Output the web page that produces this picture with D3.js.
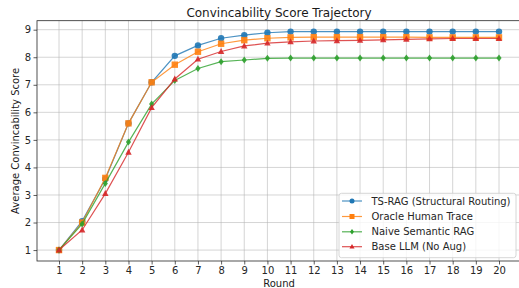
<!DOCTYPE html>
<html><head><meta charset="utf-8">
<script src="https://cdn.jsdelivr.net/npm/d3@7"></script>
<style>body{margin:0;background:#fff;} svg{display:block;font-family:"DejaVu Sans",sans-serif;}</style>
</head><body><svg id="c" width="519" height="288"></svg>
<script>
const rounds = d3.range(1, 21);
const seriesNames = ["TS-RAG (Structural Routing)", "Oracle Human Trace", "Naive Semantic RAG", "Base LLM (No Aug)"];
const tsRag = [1.0, 2.05, 3.58, 5.60, 7.09, 8.05, 8.43, 8.69, 8.80, 8.89, 8.93, 8.93, 8.93, 8.93, 8.93, 8.93, 8.93, 8.93, 8.93, 8.93];
const oracle = [1.0, 2.00, 3.62, 5.60, 7.09, 7.73, 8.20, 8.49, 8.62, 8.69, 8.72, 8.73, 8.73, 8.73, 8.73, 8.73, 8.72, 8.72, 8.72, 8.72];
const naive = [1.0, 1.95, 3.42, 4.92, 6.30, 7.16, 7.59, 7.84, 7.90, 7.96, 7.97, 7.97, 7.97, 7.97, 7.97, 7.97, 7.97, 7.97, 7.97, 7.97];
const baseLlm = [1.0, 1.73, 3.05, 4.55, 6.17, 7.21, 7.93, 8.21, 8.41, 8.51, 8.56, 8.59, 8.60, 8.61, 8.63, 8.65, 8.67, 8.68, 8.68, 8.68];
const yTicks = [1, 2, 3, 4, 5, 6, 7, 8, 9];
const colors = ["#1f77b4", "#ff7f0e", "#2ca02c", "#d62728"];
const markers = ["circle", "square", "diamond", "triangle"];
const allSeries = [tsRag, oracle, naive, baseLlm];

const svg = d3.select("#c");
const L = 37, R = 521, T = 20.7, B = 261;
const x = d3.scaleLinear().domain([0.05, 20.95]).range([L, R]);
const y = d3.scaleLinear().domain([0.6035, 9.3265]).range([B, T]);

// grid
const g = svg.append("g");
g.selectAll(".vx").data(rounds).join("line")
  .attr("x1", d => x(d)).attr("x2", d => x(d)).attr("y1", T).attr("y2", B)
  .attr("stroke", "#b0b0b0").attr("stroke-opacity", 0.6).attr("stroke-width", 0.9);
g.selectAll(".hy").data(yTicks).join("line")
  .attr("x1", L).attr("x2", R).attr("y1", d => y(d)).attr("y2", d => y(d))
  .attr("stroke", "#b0b0b0").attr("stroke-opacity", 0.6).attr("stroke-width", 0.9);

// axes
const xa = svg.append("g").attr("transform", `translate(0,${B})`)
  .call(d3.axisBottom(x).tickValues(rounds).tickSize(3.5).tickPadding(2.5).tickFormat(d3.format("d")));
const ya = svg.append("g").attr("transform", `translate(${L},0)`)
  .call(d3.axisLeft(y).tickValues(yTicks).tickSize(3.5).tickPadding(2.5).tickFormat(d3.format("d")));
[xa, ya].forEach(a => {
  a.select(".domain").remove();
  a.selectAll("line").attr("stroke", "#333").attr("stroke-width", 0.8);
  a.selectAll("text").attr("fill", "#262626").style("font-size", "10px").style("font-family", "DejaVu Sans");
});
// spines
svg.append("rect").attr("x", L).attr("y", T).attr("width", R - L).attr("height", B - T)
  .attr("fill", "none").attr("stroke", "#262626").attr("stroke-width", 0.8);

function markerPath(type, s) {
  if (type === "circle") return d3.symbol(d3.symbolCircle, s * s * Math.PI / 4)();
  if (type === "square") return `M${-s/2},${-s/2}H${s/2}V${s/2}H${-s/2}Z`;
  if (type === "diamond") return `M0,${-s*0.55}L${s*0.4},0L0,${s*0.55}L${-s*0.4},0Z`;
  return `M0,${-s*0.55}L${s*0.5},${s*0.38}L${-s*0.5},${s*0.38}Z`;
}

const line = d3.line().x((d, i) => x(rounds[i])).y(d => y(d));
allSeries.forEach((vals, k) => {
  const sg = svg.append("g");
  sg.append("path").attr("d", line(vals)).attr("fill", "none")
    .attr("stroke", colors[k]).attr("stroke-width", 1.2).attr("stroke-opacity", 0.8);
  sg.selectAll("path.m").data(vals).join("path").attr("class", "m")
    .attr("transform", (d, i) => `translate(${x(rounds[i])},${y(d)})`)
    .attr("d", markerPath(markers[k], 6.4)).attr("fill", colors[k]).attr("fill-opacity", 0.9);
});

// title & labels
svg.append("text").attr("x", (L + R) / 2).attr("y", 16.5).attr("text-anchor", "middle")
  .style("font-size", "12px").attr("fill", "#1a1a1a").text("Convincability Score Trajectory");
svg.append("text").attr("x", (L + R) / 2).attr("y", 288 - 1.5).attr("text-anchor", "middle")
  .style("font-size", "10px").attr("fill", "#1a1a1a").text("Round");
svg.append("text").attr("transform", `translate(${15.5},${(T + B) / 2}) rotate(-90)`).attr("text-anchor", "middle")
  .attr("dy", "0.35em").style("font-size", "10px").attr("fill", "#1a1a1a").text("Average Convincability Score");

// legend
const lg = svg.append("g");
lg.append("rect").attr("x", 339).attr("y", 193.3).attr("width", 177).attr("height", 64.4).attr("rx", 2.5)
  .attr("fill", "#fff").attr("fill-opacity", 0.8).attr("stroke", "#ccc").attr("stroke-width", 0.8);
const ly = [201, 216.5, 231.8, 246.7];
seriesNames.forEach((name, k) => {
  lg.append("line").attr("x1", 342).attr("x2", 362).attr("y1", ly[k]).attr("y2", ly[k])
    .attr("stroke", colors[k]).attr("stroke-width", 1.2).attr("stroke-opacity", 0.8);
  lg.append("path").attr("transform", `translate(352,${ly[k]})`).attr("d", markerPath(markers[k], 5))
    .attr("fill", colors[k]);
  lg.append("text").attr("x", 371.5).attr("y", ly[k]).attr("dy", "0.35em")
    .style("font-size", "10px").attr("fill", "#262626").text(name);
});
</script></body></html>
